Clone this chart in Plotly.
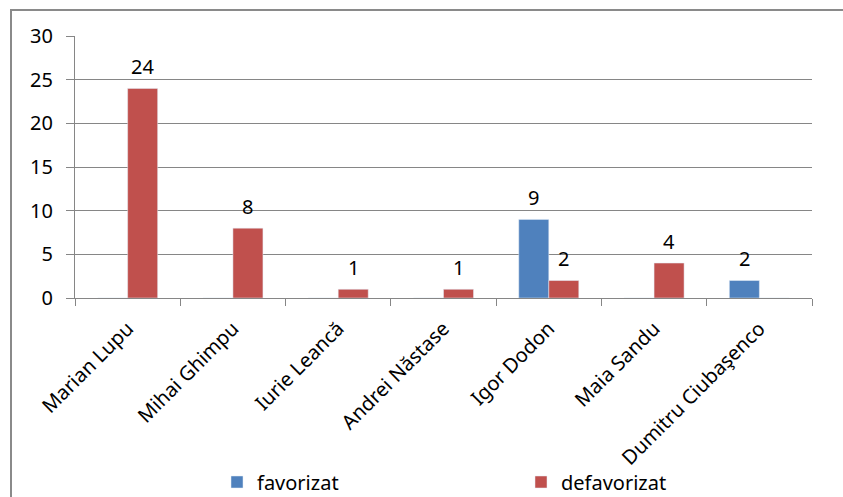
import plotly.graph_objects as go

categories = ["Marian Lupu", "Mihai Ghimpu", "Iurie Leancă", "Andrei Năstase",
              "Igor Dodon", "Maia Sandu", "Dumitru Ciubaşenco"]
favorizat = [0, 0, 0, 0, 9, 0, 2]
defavorizat = [24, 8, 1, 1, 2, 4, 0]
y_ticks = [0, 5, 10, 15, 20, 25, 30]

FONT = "Noto Sans"
FS = 20

fig = go.Figure()
fig.add_trace(go.Bar(name="favorizat", x=categories, y=favorizat,
                     marker=dict(color="#4F81BD")))
fig.add_trace(go.Bar(name="defavorizat", x=categories, y=defavorizat,
                     marker=dict(color="#C0504D")))

# data labels above non-zero bars
for vals, shift in ((favorizat, -15), (defavorizat, 15)):
    for c, v in zip(categories, vals):
        if v:
            fig.add_annotation(x=c, y=v, text=str(v), showarrow=False,
                               xshift=shift, yshift=22, yanchor="middle",
                               font=dict(size=FS, family=FONT, color="#000000"))

L, R, T, B = 75, 31, 36, 199
W, H = 843, 497
pw, ph = W - L - R, H - T - B

def px(x):
    return (x - L) / pw

def py(y):
    return (H - B - y) / ph

fig.update_layout(
    width=W, height=H,
    margin=dict(l=L, r=R, t=T, b=B, pad=0, autoexpand=False),
    paper_bgcolor="white", plot_bgcolor="white",
    barmode="group", bargap=0.43, bargroupgap=0,
    font=dict(family=FONT, size=FS, color="#000000"),
    showlegend=True,
    legend=dict(
        orientation="h", x=px(217), y=py(482), xanchor="left", yanchor="middle",
        entrywidth=259, entrywidthmode="pixels",
        font=dict(size=FS, family=FONT, color="#000000"),
        bgcolor="rgba(0,0,0,0)", itemclick=False,
    ),
)
fig.update_xaxes(
    showgrid=False, showline=True, linecolor="#868686", linewidth=1,
    ticks="outside", tickson="boundaries", ticklen=7, tickcolor="#868686",
    tickangle=-45, tickfont=dict(size=FS, family=FONT, color="#000000"),
    ticklabelstandoff=10,
    fixedrange=True, automargin=False,
)
fig.update_yaxes(
    range=[0, 30], tickvals=y_ticks, showgrid=True, gridcolor="#868686", gridwidth=1,
    showline=True, linecolor="#868686", linewidth=1,
    ticks="outside", ticklen=8, tickcolor="#868686",
    tickfont=dict(size=FS, family=FONT, color="#000000"),
    ticklabelstandoff=9,
    zeroline=False, fixedrange=True, automargin=False,
)
# outer chart border (Excel chart area frame)
fig.add_shape(type="rect", xref="paper", yref="paper",
              x0=px(11), x1=px(860), y0=py(10), y1=py(520),
              line=dict(color="#8a8a8a", width=2), fillcolor="rgba(0,0,0,0)",
              layer="below")

fig.write_html("out.html", config={"displayModeBar": False},
               post_script="document.body.style.margin='0';")
